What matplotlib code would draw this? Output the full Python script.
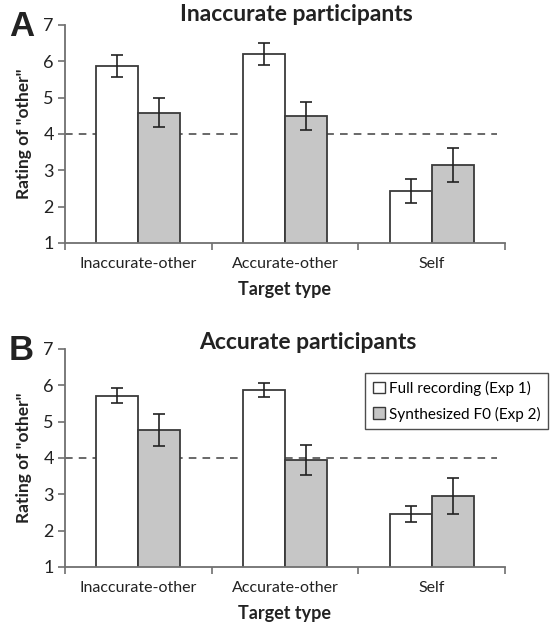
import matplotlib
matplotlib.use("Agg")
import matplotlib.pyplot as plt
import numpy as np
from matplotlib.patches import Patch

categories = ["Inaccurate-other", "Accurate-other", "Self"]
series_names = ["Full recording (Exp 1)", "Synthesized F0 (Exp 2)"]

A_full = [5.87, 6.20, 2.43]
A_full_err = [0.30, 0.29, 0.34]
A_synth = [4.59, 4.49, 3.14]
A_synth_err = [0.41, 0.38, 0.47]

B_full = [5.71, 5.86, 2.46]
B_full_err = [0.21, 0.19, 0.22]
B_synth = [4.77, 3.95, 2.96]
B_synth_err = [0.45, 0.41, 0.50]

titles = ["Inaccurate participants", "Accurate participants"]
panel_labels = ["A", "B"]
yticks = [1, 2, 3, 4, 5, 6, 7]
ref_line = 4

FONT = "Lato"
plt.rcParams['font.family'] = [FONT, 'DejaVu Sans']

fig = plt.figure(figsize=(5.5, 6.23), dpi=100)
edge = "#3a3a3a"
gray = "#c6c6c6"
spine_c = "#707070"

positions = [[0.118, 0.610, 0.800, 0.350], [0.118, 0.090, 0.800, 0.350]]
data = [(A_full, A_full_err, A_synth, A_synth_err),
        (B_full, B_full_err, B_synth, B_synth_err)]
title_y = [0.977, 0.450]
title_x = [0.538, 0.56]

x = np.arange(len(categories))
w = 0.286
for i, pos in enumerate(positions):
    ax = fig.add_axes(pos)
    full, ferr, syn, serr = data[i]
    ax.axhline(ref_line, xmin=0, xmax=0.982, color="#404040", ls=(0, (5, 4)), lw=1.1, zorder=1)
    ax.bar(x - w / 2, full, w, bottom=0, color="white", edgecolor=edge, lw=1.3, zorder=2)
    ax.bar(x + w / 2, syn, w, bottom=0, color=gray, edgecolor=edge, lw=1.3, zorder=2)
    ax.errorbar(x - w / 2, full, yerr=ferr, fmt="none", ecolor="#222222", elinewidth=1.2, capsize=4, capthick=1.2, zorder=3)
    ax.errorbar(x + w / 2, syn, yerr=serr, fmt="none", ecolor="#222222", elinewidth=1.2, capsize=4, capthick=1.2, zorder=3)
    ax.set_ylim(1, 7)
    ax.set_xlim(-0.5, 2.5)
    ax.set_yticks(yticks)
    ax.set_yticklabels([str(t) for t in yticks], fontsize=13, color="#222222")
    ax.set_xticks(x)
    ax.set_xticklabels(categories, fontsize=11.5, color="#222222")
    ax.set_xticks([-0.5, 0.5, 1.5, 2.5], minor=True)
    ax.tick_params(axis="x", which="major", length=0, pad=10)
    ax.tick_params(axis="x", which="minor", length=5, color=spine_c, width=1.2, direction="out")
    ax.tick_params(axis="y", length=5, color=spine_c, width=1.2, pad=3)
    for s in ["top", "right"]:
        ax.spines[s].set_visible(False)
    for s in ["left", "bottom"]:
        ax.spines[s].set_color(spine_c)
        ax.spines[s].set_linewidth(1.3)
    ax.set_ylabel('Rating of "other"', fontsize=12.5, fontweight="bold", labelpad=8, color="#222222")
    ax.set_xlabel("Target type", fontsize=13, fontweight="bold", labelpad=7, color="#222222")
    fig.text(title_x[i], title_y[i], titles[i], fontsize=16.5, fontweight="bold", ha="center", va="center", color="#222222")
    fig.text(0.016, pos[1] + pos[3] - 0.003, panel_labels[i], fontsize=25, fontweight="bold",
             family="Liberation Sans", ha="left", va="center", color="#222222")
    if i == 1:
        handles = [Patch(facecolor="white", edgecolor=edge, lw=1),
                   Patch(facecolor=gray, edgecolor=edge, lw=1)]
        leg = ax.legend(handles, series_names, loc="upper right", bbox_to_anchor=(0.997, 0.401),
                        bbox_transform=fig.transFigure, fontsize=11, frameon=True, fancybox=False,
                        handlelength=0.8, handleheight=0.8, handletextpad=0.25, borderpad=0.5,
                        labelspacing=0.7, borderaxespad=0)
        leg.get_frame().set_edgecolor("#222222")
        leg.get_frame().set_linewidth(1.0)

fig.savefig("out.png", dpi=100)
